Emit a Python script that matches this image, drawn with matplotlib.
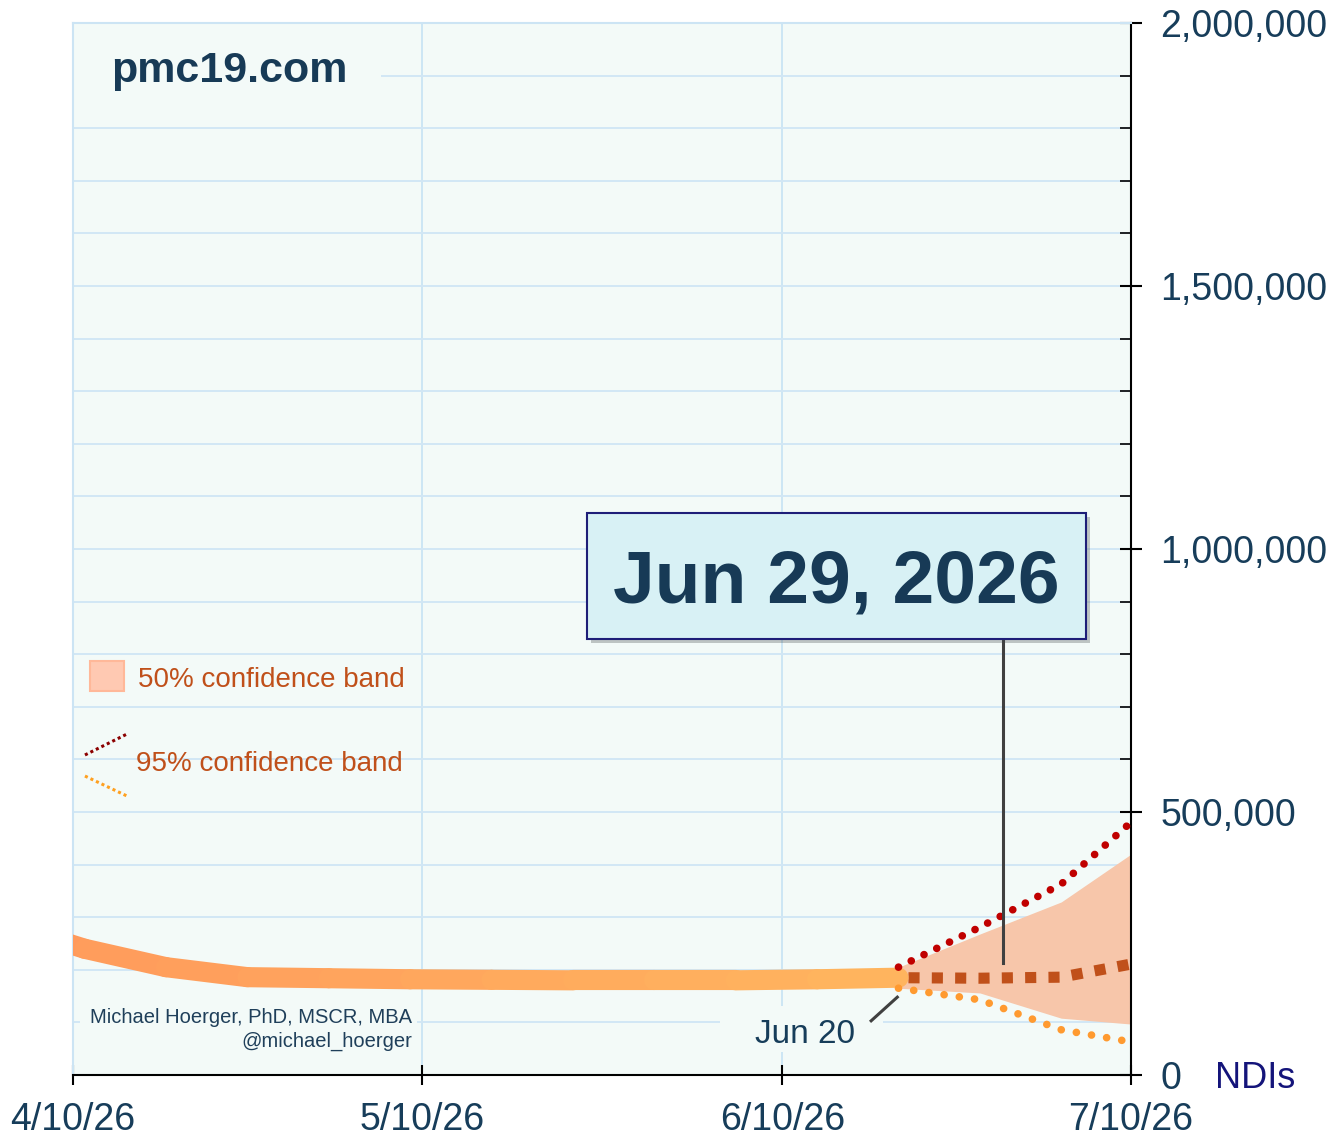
import numpy as np
import matplotlib
matplotlib.use("Agg")
import matplotlib.pyplot as plt
import matplotlib.dates as mdates
import matplotlib.patches as mpatches
import matplotlib.patheffects as pe
from matplotlib.collections import LineCollection
from matplotlib.ticker import FuncFormatter, MultipleLocator

plt.rcParams['font.family'] = ['Liberation Sans', 'DejaVu Sans']

# observed weekly values (NDIs)
obs_dates = np.array(['2026-04-04', '2026-04-11', '2026-04-18', '2026-04-25', '2026-05-02',
                      '2026-05-09', '2026-05-16', '2026-05-23', '2026-05-30', '2026-06-06',
                      '2026-06-13', '2026-06-20'], dtype='datetime64[D]')
obs_vals = [289000, 240000, 205000, 186000, 184000, 182000, 181000, 180000, 180000, 180000,
            182000, 185000]

# forecast
fc_dates = np.array(['2026-06-20', '2026-06-27', '2026-07-04', '2026-07-11'], dtype='datetime64[D]')
fc_median = [185000, 184000, 186000, 215000]
fc_upper50 = [205000, 268000, 329000, 435000]
fc_lower50 = [165000, 156000, 108000, 95000]
fc_upper95 = [205000, 281000, 363000, 500000]
fc_lower95 = [165000, 143000, 86000, 59000]

peak_date = np.datetime64('2026-06-29')
peak_label = "Jun 29, 2026"
last_obs_label = "Jun 20"

tick_dates = np.array(['2026-04-10', '2026-05-10', '2026-06-10', '2026-07-10'], dtype='datetime64[D]')
tick_labels = ["4/10/26", "5/10/26", "6/10/26", "7/10/26"]

txt_col = '#173D5A'
bg_col = '#F3FAF8'
grid_col = '#D2E7F5'
band_col = '#C0501A'

fig = plt.figure(figsize=(13.42, 11.37), dpi=100)
ax = fig.add_axes([73/1342, 62/1137, 1058/1342, 1052/1137])
ax.set_facecolor(bg_col)

# 50% band
ax.fill_between(fc_dates, fc_lower50, fc_upper50, color='#F7C6AA', lw=0, zorder=2)

# observed line with colour gradient
xo = mdates.date2num(obs_dates)
pts = np.column_stack([xo, obs_vals])
segs = np.stack([pts[:-1], pts[1:]], axis=1)
cmap = matplotlib.colors.LinearSegmentedColormap.from_list('o', ['#FF9A5C', '#FFB45E'])
lc = LineCollection(segs, colors=[cmap(t) for t in np.linspace(0, 1, len(segs))],
                    linewidths=14.5, capstyle='round', joinstyle='round', zorder=4)
ax.add_collection(lc)

# median forecast (squares)
ax.plot(fc_dates, fc_median, color=band_col, lw=8, linestyle=(1.2, (1, 1.1)),
        solid_capstyle='butt', dash_capstyle='butt', zorder=3)
# 95% band lines
ax.plot(fc_dates, fc_upper95, color='#C00000', lw=5.5, linestyle=(0, (0.01, 1.85)),
        dash_capstyle='round', zorder=5)
ax.plot(fc_dates, fc_lower95, color='#FF9A30', lw=5.5, linestyle=(0, (0.01, 2.0)),
        dash_capstyle='round', zorder=5)

ax.set_xlim(tick_dates[0], tick_dates[-1])
ax.set_ylim(0, 2000000)

# axes styling
ax.yaxis.tick_right()
ax.yaxis.set_major_locator(MultipleLocator(500000))
ax.yaxis.set_minor_locator(MultipleLocator(100000))
ax.yaxis.set_major_formatter(FuncFormatter(lambda v, p: f"{v:,.0f}"))
ax.tick_params(axis='y', which='major', direction='inout', length=16, width=1.5,
               labelsize=27, labelcolor=txt_col, pad=13)
ax.tick_params(axis='y', which='minor', direction='in', length=8, width=1.2)
ax.set_xticks(tick_dates)
ax.set_xticklabels(tick_labels)
ax.tick_params(axis='x', which='major', direction='inout', length=15, width=1.5,
               labelsize=27, labelcolor=txt_col, pad=12)
ax.grid(True, axis='y', which='both', color=grid_col, lw=1.4)
ax.grid(True, axis='x', which='major', color='#C9E4F4', lw=1.3)
ax.set_axisbelow(True)
for s in ['left', 'top']:
    ax.spines[s].set_color('#CCE4F4')
    ax.spines[s].set_linewidth(1.5)
for s in ['right', 'bottom']:
    ax.spines[s].set_color('black')
    ax.spines[s].set_linewidth(1.5)

# text backgrounds covering grid
for (x0, y0, w, h) in [(0.0, 0.91, 0.291, 0.07), (0.007, 0.02, 0.318, 0.052), (0.612, 0.022, 0.154, 0.044)]:
    ax.add_patch(mpatches.Rectangle((x0, y0), w, h, transform=ax.transAxes, facecolor=bg_col,
                                    edgecolor='none', zorder=1))

ax.text(0.0359, 0.9545, "pmc19.com", transform=ax.transAxes, fontsize=31, fontweight='bold',
        color='#173A56', ha='left', va='center', zorder=6)

ax.text(0.3204, 0.0545, "Michael Hoerger, PhD, MSCR, MBA", transform=ax.transAxes, fontsize=14.5,
        color='#1F3F5A', ha='right', va='center', zorder=6)
ax.text(0.3204, 0.0318, "@michael_hoerger", transform=ax.transAxes, fontsize=14.5,
        color='#1F3F5A', ha='right', va='center', zorder=6)

# legend
ax.add_patch(mpatches.Rectangle((0.0161, 0.365), 0.0321, 0.0285, transform=ax.transAxes,
                                facecolor='#FFC9B2', edgecolor='#FFB899', lw=1.5, zorder=6))
ax.text(0.0614, 0.3755, "50% confidence band", transform=ax.transAxes, fontsize=20,
        color=band_col, ha='left', va='center', zorder=6)
ax.plot([0.0113, 0.051], [0.3042, 0.3241], transform=ax.transAxes, color='#8B0000', lw=2.2,
        linestyle=(0, (1, 1)), zorder=6)
ax.plot([0.0113, 0.051], [0.2842, 0.2652], transform=ax.transAxes, color='#FFA020', lw=2.2,
        linestyle=(0, (1, 1)), zorder=6)
ax.text(0.0595, 0.2957, "95% confidence band", transform=ax.transAxes, fontsize=20,
        color=band_col, ha='left', va='center', zorder=6)

# peak annotation box
pk = mdates.date2num(peak_date)
ax.plot([pk, pk], [213000, 829000], color='#404040', lw=2.2, zorder=6)
box = mpatches.Rectangle((0.4858, 0.4144), 0.4716, 0.1198, transform=ax.transAxes,
                         facecolor='#D8F1F5', edgecolor='#1E1E78', lw=1.5, zorder=7)
box.set_path_effects([pe.SimplePatchShadow(offset=(3, -3), alpha=0.3), pe.Normal()])
ax.add_patch(box)
ax.text(0.7217, 0.468, peak_label, transform=ax.transAxes, fontsize=54, fontweight='bold',
        color='#173A56', ha='center', va='center', zorder=8)

# last observed label
lo = mdates.date2num(fc_dates[0])
ax.plot([lo - 2.35, lo - 0.1], [103000, 148000], color='#404040', lw=2.2, zorder=6)
ax.text(0.692, 0.0385, last_obs_label, transform=ax.transAxes, fontsize=24, color=txt_col,
        ha='center', va='center', zorder=6)

fig.text(1215/1342, 62/1137, "NDIs", fontsize=26, color='#14147A', ha='left', va='center_baseline')

fig.savefig('out.png', dpi=100)
